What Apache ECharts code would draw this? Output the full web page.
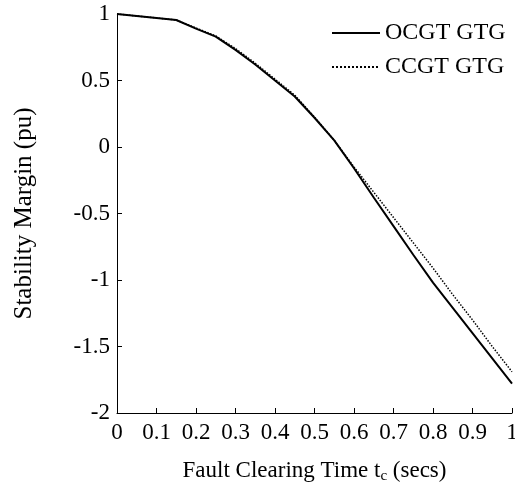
<!DOCTYPE html>
<html>
<head>
<meta charset="utf-8">
<script src="https://cdn.jsdelivr.net/npm/echarts@6/dist/echarts.min.js"></script>
<style>html,body{margin:0;padding:0;background:#fff}#c{width:515px;height:492px}</style>
</head>
<body>
<div id="c"></div>
<script>
var times = [0,0.05,0.1,0.15,0.2,0.25,0.3,0.35,0.4,0.45,0.5,0.55,0.6,0.65,0.7,0.75,0.8,0.85,0.9,0.95,1];
var ocgt = [1,0.985,0.97,0.955,0.89,0.83,0.73,0.62,0.50,0.38,0.22,0.05,-0.16,-0.38,-0.595,-0.81,-1.02,-1.21,-1.40,-1.59,-1.78];
var ccgt = [1,0.985,0.97,0.955,0.895,0.835,0.74,0.63,0.51,0.39,0.225,0.05,-0.15,-0.34,-0.53,-0.72,-0.91,-1.11,-1.30,-1.50,-1.69];
var seriesNames = ['OCGT GTG','CCGT GTG'];
var xTickLabels = {'0':'0','0.1':'0.1','0.2':'0.2','0.3':'0.3','0.4':'0.4','0.5':'0.5','0.6':'0.6','0.7':'0.7','0.8':'0.8','0.9':'0.9','1':'1'};
var yTickLabels = {'1':'1','0.5':'0.5','0':'0','-0.5':'-0.5','-1':'-1','-1.5':'-1.5','-2':'-2'};

function pairs(xs, ys){ return xs.map(function(x,i){ return [x, ys[i]]; }); }
var FONT = 'Liberation Serif';
var chart = echarts.init(document.getElementById('c'), null, {renderer:'canvas'});
chart.setOption({
  animation: false,
  backgroundColor: '#fff',
  grid: {left:117, right:3, top:14, bottom:79, containLabel:false, outerBoundsMode:'none'},
  legend: {
    orient:'vertical', left:326, top:16, itemWidth:48, itemHeight:14, itemGap:10,
    itemStyle:{opacity:0},
    textStyle:{fontFamily:FONT, fontSize:24, color:'#000', lineHeight:24},
    data: seriesNames
  },
  xAxis: {
    type:'value', min:0, max:1, interval:0.1,
    axisLine:{onZero:false, lineStyle:{color:'#000', width:1}},
    axisTick:{inside:true, length:5, lineStyle:{color:'#000'}},
    splitLine:{show:false},
    axisLabel:{color:'#000', fontFamily:FONT, fontSize:23, margin:8,
      formatter:function(v){ var k = String(Math.round(v*10)/10); return xTickLabels[k] !== undefined ? xTickLabels[k] : k; }},
    name:'Fault Clearing Time t{sub|c} (secs)', nameLocation:'middle', nameGap:45,
    nameTextStyle:{color:'#000', fontFamily:FONT, fontSize:23, lineHeight:26,
      rich:{sub:{fontFamily:FONT, fontSize:15, lineHeight:26, verticalAlign:'bottom', color:'#000'}}}
  },
  yAxis: {
    type:'value', min:-2, max:1, interval:0.5,
    axisLine:{onZero:false, lineStyle:{color:'#000', width:1}},
    axisTick:{inside:true, length:5, lineStyle:{color:'#000'}},
    splitLine:{show:false},
    axisLabel:{color:'#000', fontFamily:FONT, fontSize:23, margin:7,
      formatter:function(v){ var k = String(Math.round(v*10)/10); return yTickLabels[k] !== undefined ? yTickLabels[k] : k; }},
    name:'Stability Margin (pu)', nameLocation:'middle', nameGap:80, nameRotate:90,
    nameTextStyle:{color:'#000', fontFamily:FONT, fontSize:25}
  },
  series: [
    {name:seriesNames[0], type:'line', data:pairs(times, ocgt), symbol:'none', showSymbol:false,
     lineStyle:{color:'#000', width:2, type:'solid'}, itemStyle:{color:'#000'}, z:3},
    {name:seriesNames[1], type:'line', data:pairs(times, ccgt), symbol:'none', showSymbol:false,
     lineStyle:{color:'#000', width:1.5, type:'dotted'}, itemStyle:{color:'#000'}, z:2}
  ]
});
</script>
</body>
</html>
